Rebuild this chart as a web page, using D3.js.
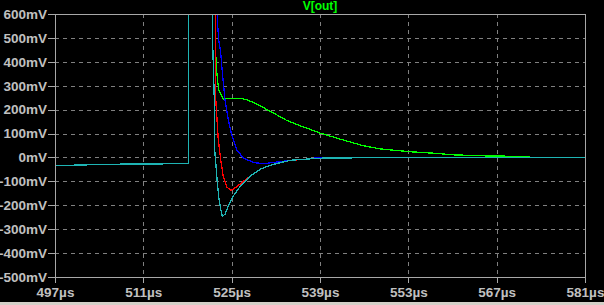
<!DOCTYPE html>
<html>
<head>
<meta charset="utf-8">
<script src="https://cdn.jsdelivr.net/npm/d3@7"></script>
<style>
  html, body { margin: 0; padding: 0; background: #000; overflow: hidden; }
  svg { display: block; }
</style>
</head>
<body>
<div class="canvas"></div>
<script>
// axis ticks
const xTicks = [497, 511, 525, 539, 553, 567, 581];
const xTickLabels = ['497µs', '511µs', '525µs', '539µs', '553µs', '567µs', '581µs'];
const yTicks = [600, 500, 400, 300, 200, 100, 0, -100, -200, -300, -400, -500];
const yTickLabels = ['600mV', '500mV', '400mV', '300mV', '200mV', '100mV', '0mV',
  '-100mV', '-200mV', '-300mV', '-400mV', '-500mV'];

// V[out] per step, time in µs, value in mV
const greenT = [497, 502, 507.5, 518.2, 518.2, 522.4, 522.47, 522.67, 522.94, 523.31, 523.67, 524.74, 526.32,
  527.38, 528.43, 529.49, 531.6, 533.72, 535.83, 539, 542.17, 545.86, 548.51, 551.15, 553.79, 556.96,
  560.13, 564.36, 571.76, 572.5, 581];
const greenV = [-34, -31, -28, -26, 1200, 1200, 429, 346, 283, 262, 244, 248, 248,
  241, 230, 216, 186, 155, 133, 102, 77, 49, 36, 29, 23, 18,
  11, 7, 4, 0, 0];

const blueT = [497, 502, 507.5, 518.2, 518.2, 522.65, 522.72, 522.95, 523.26, 523.58, 523.94, 524.47, 525,
  525.8, 526.84, 528.43, 530.01, 531.6, 534.25, 536.9, 539, 581];
const blueV = [-34, -31, -28, -26, 1200, 1200, 575, 492, 438, 339, 241, 158, 95,
  32, -2, -21, -26, -21, -12, -7, 0, 0];

const redT = [497, 502, 507.5, 518.2, 518.2, 522.4, 522.48, 522.88, 523.26, 523.67, 524.21, 524.85, 525.8,
  526.84, 527.9, 529.49, 531.08, 534.25, 539, 550.5, 581];
const redV = [-34, -31, -28, -26, 1200, 1200, 241, 74, -9, -79, -123, -138, -123,
  -100, -79, -50, -33, -12, -3, 0, 0];

const cyanT = [497, 502, 507.5, 518.2, 518.2, 521.95, 521.99, 522.25, 522.3, 522.52, 522.72, 522.99, 523.26,
  523.52, 523.94, 524.47, 525.26, 526.32, 527.9, 529.49, 531.08, 531.6, 534.25, 536.35, 539, 550.5, 581];
const cyanV = [-34, -31, -28, -26, 1200, 1200, 478, 242, 33, -36, -105, -175, -217,
  -247, -237, -203, -161, -122, -78, -50, -33, -29, -12, -8, -3, 0, 0];

const series = [
  { color: '#00ff00', t: greenT, v: greenV },
  { color: '#0000ff', t: blueT, v: blueV },
  { color: '#ff0000', t: redT, v: redV },
  { color: '#1eb4b4', t: cyanT, v: cyanV }
];

const width = 604;
const height = 305;
const margin = { top: 14, right: 19, bottom: 28, left: 55 };
const graphWidth = width - margin.left - margin.right;
const graphHeight = height - margin.top - margin.bottom;

const svg = d3.select('.canvas')
  .append('svg')
  .attr('width', width)
  .attr('height', height)
  .style('font-family', '"Liberation Sans", Arial, sans-serif');

svg.append('rect')
  .attr('width', width)
  .attr('height', height)
  .attr('fill', '#000');

// window frame strip at the bottom
svg.append('rect')
  .attr('x', 0)
  .attr('y', 302)
  .attr('width', width)
  .attr('height', 3)
  .attr('fill', '#d4d0c8');

const graph = svg.append('g')
  .attr('transform', `translate(${margin.left}, ${margin.top})`);

// scales
const x = d3.scaleLinear()
  .domain([497, 581])
  .range([0, graphWidth]);

const y = d3.scaleLinear()
  .domain([-500, 600])
  .range([graphHeight, 0]);

// dashed grid
graph.append('g')
  .selectAll('line')
  .data(xTicks.slice(1, -1))
  .enter().append('line')
  .attr('x1', d => Math.round(x(d)) + 0.5)
  .attr('x2', d => Math.round(x(d)) + 0.5)
  .attr('y1', 0)
  .attr('y2', graphHeight)
  .attr('stroke', '#808080')
  .attr('stroke-dasharray', '4,4')
  .attr('shape-rendering', 'crispEdges');

graph.append('g')
  .selectAll('line')
  .data(yTicks.slice(1, -1))
  .enter().append('line')
  .attr('x1', 0)
  .attr('x2', graphWidth)
  .attr('y1', d => Math.round(y(d)) + 0.5)
  .attr('y2', d => Math.round(y(d)) + 0.5)
  .attr('stroke', '#808080')
  .attr('stroke-dasharray', '4,4')
  .attr('shape-rendering', 'crispEdges');

// traces, clipped to the plot box
svg.append('defs').append('clipPath')
  .attr('id', 'plot-clip')
  .append('rect')
  .attr('width', graphWidth)
  .attr('height', graphHeight);

const line = d3.line()
  .x(d => x(d[0]))
  .y(d => y(d[1]));

graph.append('g')
  .attr('clip-path', 'url(#plot-clip)')
  .selectAll('path')
  .data(series)
  .enter().append('path')
  .attr('d', s => line(s.t.map((t, i) => [t, s.v[i]])))
  .attr('fill', 'none')
  .attr('stroke', s => s.color)
  .attr('stroke-width', 1.3)
  .attr('shape-rendering', 'crispEdges');

// axes
const xAxis = d3.axisBottom(x)
  .tickValues(xTicks)
  .tickFormat((d, i) => xTickLabels[i])
  .tickSize(6)
  .tickPadding(4);

const yAxis = d3.axisLeft(y)
  .tickValues(yTicks)
  .tickFormat((d, i) => yTickLabels[i])
  .tickSize(7)
  .tickPadding(1);

const xAxisGroup = graph.append('g')
  .attr('transform', `translate(0, ${graphHeight})`)
  .call(xAxis);
const yAxisGroup = graph.append('g').call(yAxis);

[xAxisGroup, yAxisGroup].forEach(g => {
  g.select('.domain').remove();
  g.selectAll('line').attr('stroke', '#a8a8a8').attr('shape-rendering', 'crispEdges');
  g.selectAll('text')
    .attr('fill', '#c0c0c0')
    .attr('font-size', 13.5)
    .attr('font-weight', 'bold');
});

// plot frame
graph.append('rect')
  .attr('x', 0.5)
  .attr('y', 0.5)
  .attr('width', graphWidth)
  .attr('height', graphHeight)
  .attr('fill', 'none')
  .attr('stroke', '#a8a8a8')
  .attr('shape-rendering', 'crispEdges');

// title
svg.append('text')
  .attr('x', margin.left + graphWidth / 2)
  .attr('y', 10)
  .attr('text-anchor', 'middle')
  .attr('fill', '#00ff00')
  .attr('font-size', 12)
  .attr('font-weight', 'bold')
  .text('V[out]');
</script>
</body>
</html>
